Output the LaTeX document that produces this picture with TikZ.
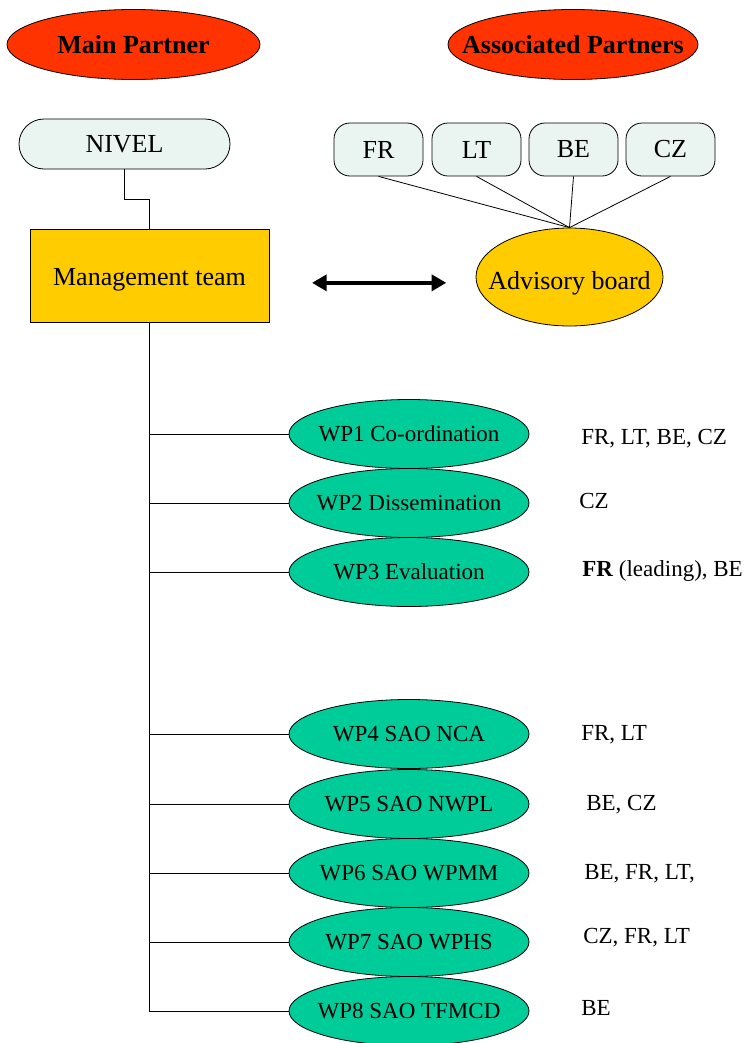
\documentclass[tikz,border=0pt]{standalone}
\usepackage{fontspec}
\setmainfont{Liberation Serif}
\usetikzlibrary{arrows.meta,shapes.geometric,shapes.misc,positioning}
\definecolor{partnerred}{RGB}{255,51,0}
\definecolor{teamgold}{RGB}{255,204,0}
\definecolor{wpgreen}{RGB}{0,204,153}
\definecolor{dotfill}{RGB}{234,245,242}
\newcommand{\bigfont}{\fontsize{19.5}{23}\selectfont}
\newcommand{\wpfont}{\fontsize{17.25}{20}\selectfont}

\begin{document}
\begin{tikzpicture}[x=0.75pt,y=-0.75pt,
  every node/.style={inner sep=0pt},
  oval/.style={ellipse,draw,line width=0.6pt,inner xsep=-20pt},
  headoval/.style={oval,fill=partnerred,minimum height=52.5pt,font=\bigfont\bfseries},
  tagbox/.style={draw,line width=0.6pt,fill=dotfill,font=\bigfont},
  partnerbox/.style={tagbox,rounded corners=12pt,minimum width=66.75pt,minimum height=39.75pt},
  wpoval/.style={oval,fill=wpgreen,minimum width=180pt,minimum height=51.75pt,font=\wpfont},
  wplabel/.style={anchor=west,font=\wpfont},
  link/.style={line width=0.6pt},
  bigarrow/.style={{Triangle[length=11pt,width=12pt]}-{Triangle[length=11pt,width=12pt]},line width=3pt}]

\useasboundingbox (0,0) rectangle (745,1043);

%% ── headings ────────────────────────────────────────────────────────────────
\node[headoval,minimum width=189.75pt] (main) at (133.5,44.5) {Main Partner};
\node[headoval,minimum width=187.5pt] (assoc) at (573,44.5) {Associated Partners};

%% ── main partner and management ─────────────────────────────────────────────
\node[tagbox,rounded rectangle,minimum width=158.25pt,minimum height=37.5pt]
  (nivel) at (124.5,144) {NIVEL};
% text sits a little low in the box, as in the original
\node[draw,line width=0.6pt,fill=teamgold,minimum width=179.25pt,minimum height=69.75pt,
  font=\bigfont,text height=20pt,text depth=4.3pt] (mgmt) at (149.5,275.5) {Management team};
\draw[link] (nivel.south) -- ++(0,30) -| (mgmt.north);

%% ── associated partners and advisory board ──────────────────────────────────
\foreach \p/\x in {FR/378.5,LT/476.5,BE/573.5,CZ/670.5}
  \node[partnerbox] (\p) at (\x,149.5) {\p};
\node[oval,fill=teamgold,minimum width=140.25pt,minimum height=73.5pt,font=\bigfont,
  text height=23pt,text depth=4.3pt] (adv) at (569.5,277) {Advisory board};
\foreach \p in {FR,LT,BE,CZ}
  \draw[link] (\p.south) -- (adv.north);

% two-way link between the boards
\draw[bigarrow,shorten <=32pt,shorten >=22pt]
  ([yshift=-5.5pt]mgmt.east) -- ([yshift=-5.5pt]mgmt.east -| adv.west);

%% ── work packages ───────────────────────────────────────────────────────────
\foreach \i/\y/\t in {1/434/WP1 Co-ordination,2/503/WP2 Dissemination,
    3/572/WP3 Evaluation,4/734/WP4 SAO NCA,5/804/WP5 SAO NWPL,
    6/873/WP6 SAO WPMM,7/942/WP7 SAO WPHS,8/1011/WP8 SAO TFMCD}{%
  \node[wpoval] (wp\i) at (409,\y) {\t};
}
\draw[link] (mgmt.south) |- (wp8.west);
\foreach \i in {1,...,7}
  \draw[link] (mgmt.south |- wp\i.west) -- (wp\i.west);

%% ── partners per work package ───────────────────────────────────────────────
\node[wplabel] (who1) at (581,439) {FR, LT, BE, CZ};
\node[wplabel] (who2) at (579,501) {CZ};
\node[wplabel] (who3) at (582,571) {\textbf{FR} (leading), BE};
\node[wplabel] (who4) at (581,735) {FR, LT};
\node[wplabel] (who5) at (586,805) {BE, CZ};
\node[wplabel] (who6) at (584,874) {BE, FR, LT,};
\node[wplabel] (who7) at (583,938) {CZ, FR, LT};
\node[wplabel] (who8) at (581,1008) {BE};

\end{tikzpicture}
\end{document}
